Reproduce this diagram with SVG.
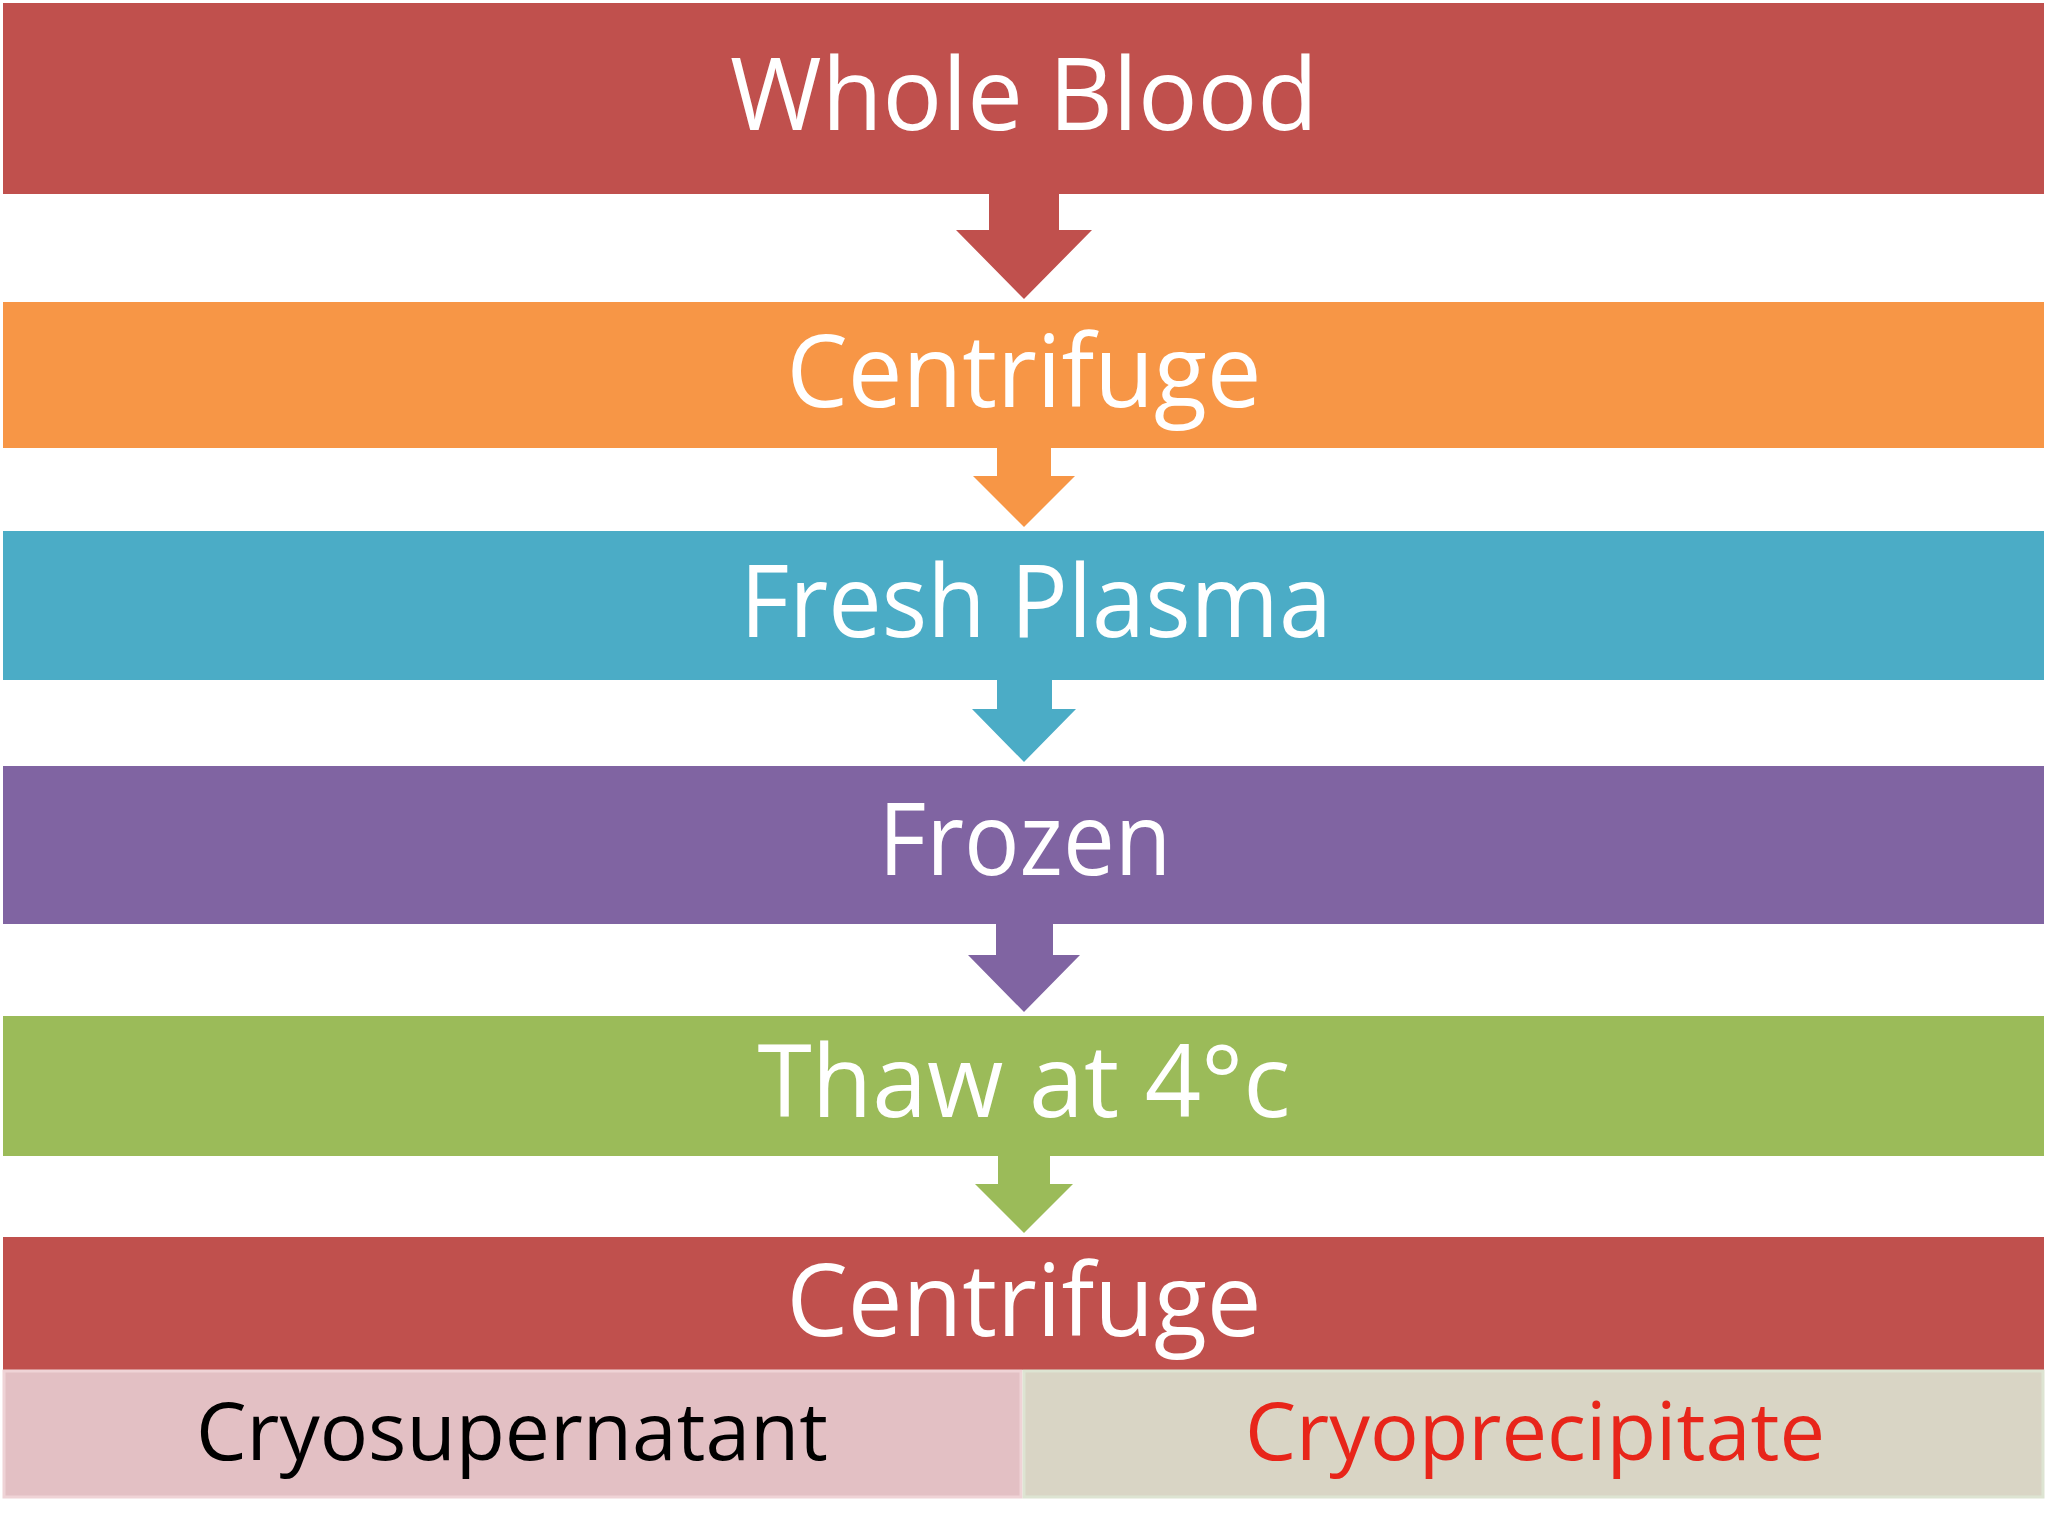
<svg xmlns="http://www.w3.org/2000/svg" width="2048" height="1536" viewBox="0 0 2048 1536">
<style>
.t{font-family:"Open Sans","Liberation Sans",sans-serif;font-size:101px;fill:#FFFFFF;text-anchor:middle}
.b{font-family:"Open Sans","Liberation Sans",sans-serif;font-size:81px;text-anchor:middle}
</style>
<rect width="2048" height="1536" fill="#FFFFFF"/>
<g id="connectors">
<polygon fill="#C0504D" points="989,190 1059,190 1059,230 1092,230 1024,299 956,230 989,230"/>
<polygon fill="#F79646" points="997,445 1051,445 1051,476 1075,476 1024,527 973,476 997,476"/>
<polygon fill="#4BACC6" points="997,677 1052,677 1052,709 1076,709 1024,762 972,709 997,709"/>
<polygon fill="#8064A2" points="996,921 1053,921 1053,955 1080,955 1024,1012 968,955 996,955"/>
<polygon fill="#9BBB59" points="998,1153 1050,1153 1050,1184 1073,1184 1024,1233 975,1184 998,1184"/>
</g>
<g id="whole-blood"><rect x="3" y="3" width="2041" height="191" fill="#C0504D"/><text class="t" x="1024" y="130" textLength="588" lengthAdjust="spacingAndGlyphs">Whole Blood</text></g>
<g id="centrifuge-1"><rect x="3" y="302" width="2041" height="146" fill="#F79646"/><text class="t" x="1024" y="407" textLength="475" lengthAdjust="spacingAndGlyphs">Centrifuge</text></g>
<g id="fresh-plasma"><rect x="3" y="531" width="2041" height="149" fill="#4BACC6"/><text class="t" x="1036" y="637" textLength="592" lengthAdjust="spacingAndGlyphs">Fresh Plasma</text></g>
<g id="frozen"><rect x="3" y="766" width="2041" height="158" fill="#8064A2"/><text class="t" x="1025" y="875" textLength="293" lengthAdjust="spacingAndGlyphs">Frozen</text></g>
<g id="thaw"><rect x="3" y="1016" width="2041" height="140" fill="#9BBB59"/><text class="t" x="1024" y="1117" textLength="533" lengthAdjust="spacingAndGlyphs">Thaw at 4°c</text></g>
<g id="centrifuge-2"><rect x="3" y="1237" width="2041" height="133" fill="#C0504D"/><text class="t" x="1024" y="1336" textLength="475" lengthAdjust="spacingAndGlyphs">Centrifuge</text></g>
<g id="cryosupernatant"><rect x="4" y="1371" width="1017" height="126" fill="#E3C0C4" stroke="#EFD3D6" stroke-width="3"/><text class="b" x="512" y="1460" fill="#000000" textLength="632" lengthAdjust="spacingAndGlyphs">Cryosupernatant</text></g>
<g id="cryoprecipitate"><rect x="1024" y="1371" width="1019" height="126" fill="#D9D5C5" stroke="#DDE4D2" stroke-width="3"/><text class="b" x="1535" y="1460" fill="#E8251A" textLength="580" lengthAdjust="spacingAndGlyphs">Cryoprecipitate</text></g>
</svg>
